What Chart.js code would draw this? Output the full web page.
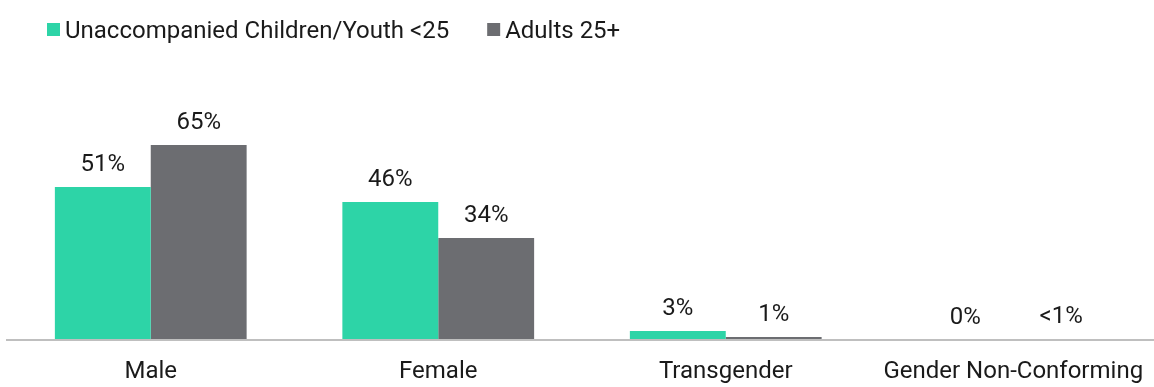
<!DOCTYPE html>
<html>
<head>
<meta charset="utf-8">
<script src="https://cdn.jsdelivr.net/npm/chart.js@4"></script>
<style>
  html, body { margin: 0; padding: 0; background: #fff; overflow: hidden; }
  #wrap { width: 1157px; height: 387px; position: relative; }
</style>
</head>
<body>
<div id="wrap"><canvas id="genderChart"></canvas></div>
<script>
const categories = ['Male', 'Female', 'Transgender', 'Gender Non-Conforming'];
const youthValues = [51, 46, 3, 0];
const adultValues = [65, 34, 1, 0.2];
const youthLabels = ['51%', '46%', '3%', '0%'];
const adultLabels = ['65%', '34%', '1%', '<1%'];

const FONT = 'Roboto, "Noto Sans", sans-serif';

// value text above each bar
const barLabels = {
    id: 'barLabels',
    afterDatasetsDraw(chart) {
        const ctx = chart.ctx;
        ctx.save();
        ctx.font = '24px ' + FONT;
        ctx.fillStyle = '#1a1a1a';
        ctx.textAlign = 'center';
        ctx.textBaseline = 'alphabetic';
        chart.data.datasets.forEach((ds, i) => {
            chart.getDatasetMeta(i).data.forEach((bar, j) => {
                ctx.fillText(ds.valueLabels[j], bar.x, bar.y - 16);
            });
        });
        ctx.restore();
    }
};

// square swatches + series names along the top
const topLegend = {
    id: 'topLegend',
    afterDraw(chart) {
        const ctx = chart.ctx;
        ctx.save();
        ctx.font = '24px ' + FONT;
        ctx.textBaseline = 'alphabetic';
        let x = 47;
        chart.data.datasets.forEach(ds => {
            ctx.fillStyle = ds.backgroundColor;
            ctx.fillRect(x, 23, 13, 13);
            ctx.fillStyle = '#1a1a1a';
            ctx.fillText(ds.label, x + 18, 38);
            x += 18 + ctx.measureText(ds.label).width + 38;
        });
        ctx.restore();
    }
};

new Chart(document.getElementById('genderChart'), {
    type: 'bar',
    data: {
        labels: categories,
        datasets: [{
            label: 'Unaccompanied Children/Youth <25',
            data: youthValues,
            valueLabels: youthLabels,
            backgroundColor: 'rgb(45, 212, 167)',
            categoryPercentage: 0.667,
            barPercentage: 1
        }, {
            label: 'Adults 25+',
            data: adultValues,
            valueLabels: adultLabels,
            backgroundColor: 'rgb(108, 109, 113)',
            categoryPercentage: 0.667,
            barPercentage: 1
        }]
    },
    options: {
        responsive: true,
        maintainAspectRatio: false,
        animation: false,
        layout: { padding: { left: 7, right: 0, top: 100, bottom: 0 } },
        plugins: {
            legend: { display: false },
            tooltip: { enabled: false }
        },
        scales: {
            x: {
                // invisible tick marks just push the labels down
                grid: { display: false, drawTicks: true, tickLength: 18 },
                // baseline drawn over the bars
                border: { display: true, color: '#bfbfbf', width: 2, z: 1 },
                ticks: { color: '#1a1a1a', font: { family: FONT, size: 24 }, padding: 0 },
                afterFit(scale) { scale.height = 47; }
            },
            y: {
                display: false,
                min: 0,
                max: 80
            }
        }
    },
    plugins: [barLabels, topLegend]
});
</script>
</body>
</html>
